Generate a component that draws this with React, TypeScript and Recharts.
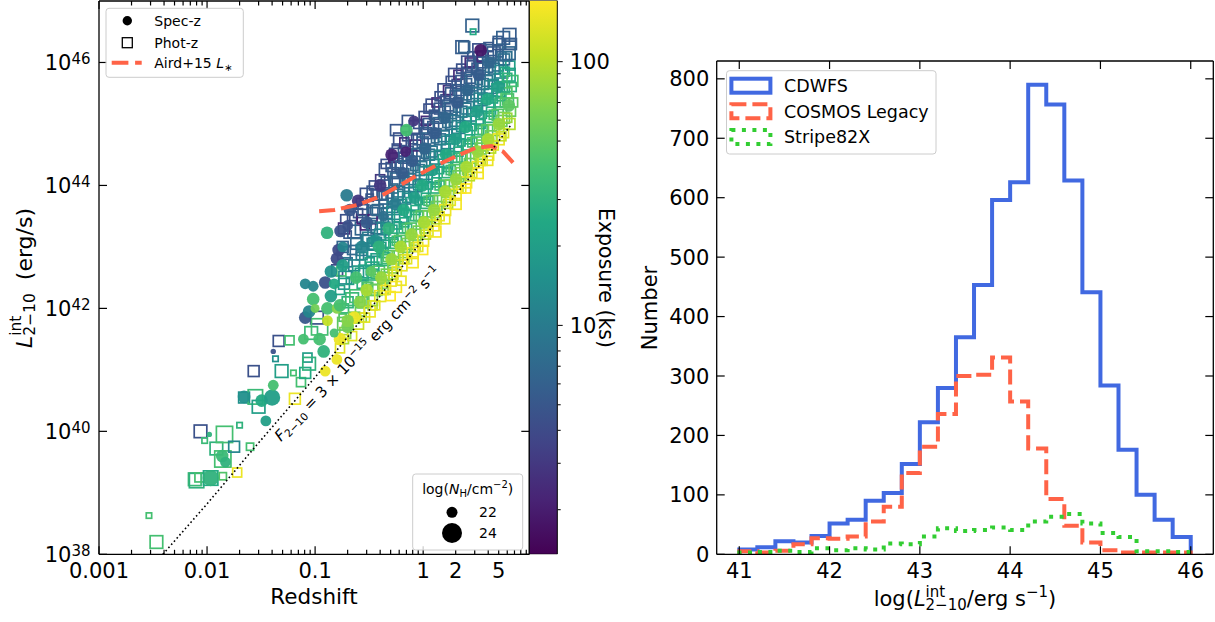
import { ComposedChart, Scatter, Line, XAxis, YAxis, BarChart, Bar } from 'recharts'

const FONT = '"DejaVu Sans", Verdana, sans-serif'
const INK = '#000'

// [redshift, log L_int (erg/s), exposure (ks), log NH]
type Src = [number, number, number, number]

const specZ: Src[] = [
  [0.0108, 39.24, 30, 24], [0.0105, 39.95, 30, 21], [0.0138, 39.6, 35, 23], [0.0148, 39.5, 30, 22.5],
  [0.022, 40.56, 15, 23], [0.032, 40.5, 25, 23], [0.035, 40.17, 20, 22.5], [0.04, 40.55, 20, 24],
  [0.041, 40.75, 40, 22.5], [0.041, 41.3, 4.5, 21], [0.078, 41.5, 40, 22.5], [0.081, 41.85, 5, 23],
  [0.088, 41.95, 12, 23], [0.096, 42.15, 40, 23], [0.081, 42.4, 12, 22.5], [0.096, 42.36, 12, 22.5],
  [0.124, 42.42, 4.5, 23], [0.124, 40.98, 150, 22.5], [0.159, 41.17, 150, 22.5], [0.17, 41.5, 150, 23],
  [0.2, 41.7, 60, 23], [0.23, 41.85, 150, 23], [0.129, 43.23, 30, 23], [0.172, 43.26, 4.5, 23],
  [0.196, 43.84, 10, 23], [0.159, 42.81, 4, 23], [0.165, 42.95, 4, 23], [0.18, 43.0, 12, 22.5],
  [0.1, 42.0, 60, 22], [0.11, 41.5, 40, 23], [0.13, 42.0, 40, 23], [0.14, 42.2, 20, 23],
  [0.12, 41.3, 30, 23], [0.15, 41.6, 40, 22], [0.14, 42.6, 15, 23], [0.15, 42.4, 25, 22.5],
  [0.13, 41.8, 110, 22.5], [0.16, 42.0, 70, 22.5],
  [0.17, 42.05, 40, 23], [0.2, 41.8, 70, 23], [0.18, 42.7, 20, 23], [0.2, 43.35, 4.5, 22.5], [0.21, 43.6, 5, 23],
  [0.26, 42.1, 70, 23], [0.24, 42.5, 40, 23], [0.27, 43.0, 12, 23], [0.25, 43.75, 3, 23],
  [0.3, 42.3, 90, 23], [0.33, 42.6, 50, 22.5], [0.36, 43.1, 15, 23], [0.3, 43.4, 5.5, 23],
  [0.41, 42.5, 80, 23], [0.39, 43.0, 30, 23], [0.43, 43.5, 8, 22.5], [0.4, 44.0, 3, 23],
  [0.51, 42.8, 80, 23], [0.48, 43.3, 30, 23], [0.55, 43.7, 10, 23], [0.51, 44.5, 2.2, 23],
  [0.62, 43.0, 90, 23], [0.66, 43.6, 25, 23], [0.64, 44.2, 5.5, 23], [0.69, 44.55, 2.2, 22.5], [0.7, 44.9, 40, 23],
  [0.78, 43.2, 80, 23], [0.83, 43.8, 20, 23], [0.79, 44.4, 5.5, 23], [0.82, 45.05, 3, 22.5],
  [1.02, 43.4, 90, 23], [0.98, 44.0, 25, 23], [1.03, 44.6, 6.5, 23],
  [1.26, 43.6, 80, 23], [1.22, 44.25, 20, 23], [1.28, 44.85, 5.5, 23],
  [1.6, 43.9, 90, 23], [1.63, 44.5, 25, 23], [1.58, 45.1, 6.5, 23],
  [2.02, 44.1, 80, 23], [1.99, 44.75, 20, 23], [2.06, 45.35, 5.5, 23],
  [2.52, 44.3, 90, 23], [2.47, 44.95, 25, 23], [2.56, 45.55, 6.5, 23],
  [3.21, 44.55, 80, 23], [3.16, 45.2, 20, 23], [3.27, 45.8, 5.5, 23], [3.4, 46.2, 1.8, 23],
  [4.0, 44.75, 90, 23], [3.94, 45.4, 25, 23], [4.06, 46.0, 6.5, 23],
  [5.02, 45.0, 80, 23], [4.96, 45.6, 20, 23],
  [6.2, 45.3, 50, 23],
]

const photZ: Src[] = [
  // low-z tail
  [0.0029, 38.63, 40, 21], [0.0034, 38.2, 40, 23], [0.0077, 39.22, 35, 23], [0.008, 39.2, 30, 23.5],
  [0.0085, 39.25, 40, 22], [0.0087, 40.0, 4.5, 23], [0.0095, 39.85, 35, 21], [0.0108, 39.24, 25, 23.5],
  [0.0122, 39.72, 30, 23], [0.014, 39.55, 40, 24], [0.014, 39.27, 45, 21.5], [0.0145, 39.95, 40, 24],
  [0.0178, 39.75, 12, 22.5], [0.019, 39.33, 150, 22], [0.02, 40.1, 30, 21], [0.022, 40.55, 15, 22.5],
  [0.025, 39.75, 40, 21.5], [0.027, 40.98, 4.5, 22.5], [0.028, 40.56, 35, 23.5], [0.03, 40.4, 20, 23],
  [0.043, 41.18, 15, 21], [0.046, 41.47, 4.5, 22.5], [0.049, 40.98, 20, 23], [0.058, 41.48, 40, 22],
  [0.063, 40.95, 40, 21], [0.065, 40.53, 150, 22.5], [0.074, 40.8, 40, 22], [0.081, 40.95, 25, 22.5],
  [0.085, 41.2, 20, 22], [0.088, 41.1, 30, 23], [0.092, 41.6, 35, 23], [0.104, 41.85, 4.5, 23],
  [0.11, 41.7, 40, 24], [0.16, 42.62, 4, 22.5], [0.175, 42.6, 40, 22],
  // dense band
  [0.17, 41.35, 140, 22], [0.19, 41.6, 70, 22.5], [0.18, 41.85, 45, 21.5], [0.2, 42.1, 30, 22.5], [0.17, 42.3, 22, 22],
  [0.19, 42.5, 14, 23], [0.2, 42.75, 9, 22], [0.18, 43.0, 6.5, 22.5], [0.2, 43.2, 5, 21.5], [0.19, 43.45, 4.5, 22],
  [0.185, 41.5, 90, 22], [0.185, 41.75, 50, 23], [0.185, 42.0, 35, 22], [0.185, 42.4, 18, 22.5], [0.185, 42.9, 7, 23],
  [0.185, 43.3, 2.5, 22.5],
  [0.22, 41.55, 140, 22], [0.23, 41.85, 60, 22.5], [0.22, 42.15, 35, 23], [0.21, 42.45, 20, 21.5], [0.23, 42.7, 12, 22.5],
  [0.22, 42.95, 7, 22], [0.23, 43.25, 5.5, 23], [0.22, 43.5, 4.5, 22],
  [0.25, 41.75, 120, 22.5], [0.26, 41.95, 60, 22], [0.24, 42.2, 38, 23], [0.27, 42.4, 28, 22], [0.25, 42.6, 18, 22.5],
  [0.26, 42.85, 11, 21.5], [0.24, 43.05, 7, 22.5], [0.27, 43.3, 6.5, 23], [0.25, 43.55, 5, 22],
  [0.27, 41.85, 80, 22], [0.27, 42.1, 45, 22.5], [0.27, 42.55, 20, 23], [0.27, 42.95, 9, 22.5], [0.27, 43.45, 2.2, 22],
  [0.27, 43.7, 4.5, 22.5],
  [0.29, 41.85, 140, 22], [0.28, 42.1, 55, 22.5], [0.3, 42.35, 35, 22], [0.29, 42.6, 22, 23], [0.28, 42.85, 14, 21.5],
  [0.3, 43.1, 9, 22.5], [0.29, 43.35, 2.2, 22], [0.28, 43.6, 5.5, 22.5], [0.3, 43.85, 4.5, 23],
  [0.32, 41.95, 150, 22.5], [0.33, 42.15, 80, 23], [0.31, 42.35, 45, 22], [0.34, 42.55, 30, 22.5], [0.32, 42.75, 22, 22],
  [0.35, 42.95, 15, 23], [0.31, 43.15, 10, 22.5], [0.33, 43.35, 7, 22], [0.34, 43.55, 6.5, 22.5], [0.32, 43.8, 5, 21.5],
  [0.35, 44.0, 4.5, 22],
  [0.34, 42.05, 100, 22], [0.34, 42.3, 50, 22.5], [0.34, 42.65, 25, 23], [0.34, 43.05, 12, 22.5], [0.34, 43.45, 2.2, 22],
  [0.34, 43.9, 5, 22.5],
  [0.36, 42.05, 140, 22], [0.37, 42.3, 55, 22.5], [0.36, 42.55, 32, 21.5], [0.37, 42.8, 20, 22.5], [0.36, 43.05, 12, 23],
  [0.37, 43.3, 7, 22.5], [0.36, 43.6, 6, 22], [0.37, 43.85, 5, 22.5],
  [0.4, 42.2, 140, 22.5], [0.42, 42.4, 70, 22], [0.39, 42.6, 45, 22.5], [0.43, 42.8, 30, 23], [0.41, 43.0, 20, 22],
  [0.4, 43.2, 13, 22.5], [0.44, 43.4, 9, 21.5], [0.38, 43.6, 7, 22.5], [0.42, 43.85, 5.5, 22.5], [0.4, 44.1, 3, 22],
  [0.45, 44.25, 5, 23],
  [0.43, 42.3, 90, 22], [0.43, 42.5, 55, 22.5], [0.43, 42.9, 25, 22], [0.43, 43.3, 11, 23], [0.43, 43.7, 6.5, 22],
  [0.43, 44.0, 5, 22.5],
  [0.45, 42.3, 140, 22], [0.46, 42.55, 60, 22.5], [0.45, 42.8, 35, 22], [0.46, 43.05, 22, 21.5], [0.45, 43.3, 14, 22],
  [0.46, 43.55, 8, 22.5], [0.45, 43.8, 6.5, 23], [0.46, 44.05, 5, 22.5], [0.45, 44.35, 4.5, 22],
  [0.5, 42.45, 150, 22.5], [0.52, 42.65, 75, 22], [0.48, 42.85, 45, 22.5], [0.53, 43.05, 30, 22], [0.5, 43.25, 22, 23],
  [0.47, 43.45, 14, 22], [0.52, 43.65, 10, 22.5], [0.49, 43.85, 7, 21.5], [0.54, 44.05, 6, 22.5], [0.5, 44.3, 5, 22],
  [0.56, 44.5, 4.5, 23],
  [0.53, 42.55, 100, 22], [0.53, 42.75, 60, 22.5], [0.53, 43.15, 28, 22], [0.53, 43.55, 13, 23], [0.53, 43.95, 7, 22],
  [0.53, 44.2, 5.5, 22.5], [0.53, 44.45, 2.5, 22],
  [0.57, 42.6, 140, 22], [0.58, 42.85, 60, 22.5], [0.57, 43.1, 35, 22], [0.58, 43.35, 22, 21.5], [0.57, 43.6, 14, 22],
  [0.58, 43.85, 8, 22.5], [0.57, 44.1, 6.5, 23], [0.58, 44.35, 5, 22.5], [0.57, 44.6, 4.5, 22], [0.56, 44.9, 5, 22.5],
  [0.63, 42.7, 140, 22.5], [0.65, 42.9, 70, 22], [0.61, 43.1, 45, 22.5], [0.66, 43.3, 30, 22], [0.62, 43.5, 20, 23],
  [0.64, 43.7, 13, 22], [0.6, 43.9, 9, 22.5], [0.67, 44.1, 7, 21.5], [0.63, 44.3, 5.5, 22.5], [0.65, 44.55, 5, 22],
  [0.61, 44.75, 4.5, 23],
  [0.67, 42.8, 100, 22], [0.67, 43.0, 55, 22.5], [0.67, 43.4, 25, 22], [0.67, 43.8, 11, 23], [0.67, 44.2, 6.5, 22],
  [0.67, 44.45, 5.5, 22.5], [0.67, 44.7, 2.5, 22],
  [0.71, 42.8, 140, 22], [0.72, 43.05, 60, 22.5], [0.71, 43.3, 35, 22], [0.72, 43.55, 22, 21.5], [0.71, 43.8, 14, 22],
  [0.72, 44.05, 8, 22.5], [0.71, 44.3, 6.5, 23], [0.72, 44.55, 5, 22.5], [0.71, 44.8, 4.5, 22], [0.72, 45.05, 5, 22.5],
  [0.8, 42.9, 150, 22.5], [0.82, 43.1, 75, 22], [0.77, 43.3, 45, 22.5], [0.84, 43.5, 30, 22], [0.79, 43.7, 20, 23],
  [0.81, 43.9, 14, 22], [0.76, 44.1, 9, 22.5], [0.83, 44.3, 7, 21.5], [0.78, 44.5, 5.5, 22.5], [0.8, 44.75, 5, 22],
  [0.85, 44.95, 4.5, 23],
  [0.85, 43.0, 100, 22], [0.85, 43.2, 60, 22.5], [0.85, 43.6, 25, 22], [0.85, 44.0, 11, 23], [0.85, 44.4, 6.5, 22],
  [0.85, 44.65, 2.5, 22.5],
  [0.9, 43.0, 140, 22], [0.91, 43.25, 60, 22.5], [0.9, 43.5, 35, 22], [0.91, 43.75, 22, 21.5], [0.9, 44.0, 14, 22],
  [0.91, 44.25, 8, 22.5], [0.9, 44.5, 6.5, 23], [0.91, 44.75, 5, 22.5], [0.9, 45.0, 4.5, 22],
  [1.0, 43.1, 150, 22.5], [1.03, 43.3, 70, 22], [0.97, 43.5, 45, 22.5], [1.05, 43.7, 30, 22], [0.98, 43.9, 22, 23],
  [1.02, 44.1, 14, 22], [0.96, 44.3, 9, 22.5], [1.04, 44.5, 7, 21.5], [0.99, 44.7, 6, 22.5], [1.01, 44.9, 5, 22],
  [1.05, 45.1, 4.5, 23],
  [1.06, 43.2, 100, 22], [1.06, 43.4, 55, 22.5], [1.06, 43.8, 25, 22], [1.06, 44.2, 11, 23], [1.06, 44.6, 6.5, 22],
  [1.06, 44.85, 5.5, 22.5], [1.06, 45.05, 2.5, 22],
  [1.12, 43.25, 140, 22], [1.13, 43.5, 60, 22.5], [1.12, 43.75, 35, 22], [1.13, 44.0, 22, 21.5], [1.12, 44.25, 14, 22],
  [1.13, 44.5, 8, 22.5], [1.12, 44.75, 6.5, 23], [1.13, 45.0, 5, 22.5], [1.12, 45.25, 4.5, 22],
  [1.25, 43.35, 150, 22.5], [1.28, 43.55, 75, 22], [1.21, 43.75, 45, 22.5], [1.3, 43.95, 30, 22], [1.23, 44.15, 20, 23],
  [1.27, 44.35, 14, 22], [1.2, 44.55, 9, 22.5], [1.29, 44.75, 7, 21.5], [1.24, 44.95, 5.5, 22.5], [1.26, 45.15, 5, 22],
  [1.22, 45.3, 4.5, 23],
  [1.33, 43.45, 100, 22], [1.33, 43.65, 55, 22.5], [1.33, 44.05, 25, 22], [1.33, 44.45, 11, 23], [1.33, 44.85, 6.5, 22],
  [1.33, 45.1, 5.5, 22.5], [1.33, 45.35, 2.5, 22],
  [1.42, 43.5, 140, 22], [1.43, 43.75, 60, 22.5], [1.42, 44.0, 35, 22], [1.43, 44.25, 22, 21.5], [1.42, 44.5, 14, 22],
  [1.43, 44.75, 8, 22.5], [1.42, 45.0, 6.5, 23], [1.43, 45.25, 5, 22.5], [1.42, 45.45, 4.5, 22],
  [1.6, 43.6, 150, 22.5], [1.63, 43.8, 70, 22], [1.56, 44.0, 45, 22.5], [1.65, 44.2, 30, 22], [1.58, 44.4, 22, 23],
  [1.62, 44.6, 14, 22], [1.55, 44.8, 9, 22.5], [1.64, 45.0, 7, 21.5], [1.59, 45.2, 6, 22.5], [1.61, 45.4, 5, 22],
  [1.57, 45.55, 4.5, 23],
  [1.7, 43.7, 100, 22], [1.7, 43.9, 55, 22.5], [1.7, 44.3, 25, 22], [1.7, 44.7, 11, 23], [1.7, 45.1, 6.5, 22],
  [1.7, 45.3, 5.5, 22.5], [1.7, 45.55, 2.5, 22],
  [1.8, 43.75, 140, 22], [1.81, 44.0, 60, 22.5], [1.8, 44.25, 35, 22], [1.81, 44.5, 22, 21.5], [1.8, 44.75, 14, 22],
  [1.81, 45.0, 8, 22.5], [1.8, 45.25, 6.5, 23], [1.81, 45.5, 5, 22.5], [1.8, 45.7, 4.5, 22],
  [2.0, 43.85, 150, 22.5], [2.05, 44.05, 75, 22], [1.95, 44.25, 45, 22.5], [2.08, 44.45, 30, 22], [1.98, 44.65, 20, 23],
  [2.03, 44.85, 14, 22], [1.96, 45.05, 9, 22.5], [2.07, 45.25, 7, 21.5], [2.0, 45.45, 5.5, 22.5], [2.04, 45.65, 5, 22],
  [1.97, 45.8, 4.5, 23],
  [2.12, 43.95, 100, 22], [2.12, 44.15, 55, 22.5], [2.12, 44.55, 25, 22], [2.12, 44.95, 11, 23], [2.12, 45.35, 6.5, 22],
  [2.12, 45.55, 5.5, 22.5], [2.12, 45.8, 2.5, 22],
  [2.25, 43.95, 140, 22], [2.26, 44.2, 60, 22.5], [2.25, 44.45, 35, 22], [2.26, 44.7, 22, 21.5], [2.25, 44.95, 14, 22],
  [2.26, 45.2, 8, 22.5], [2.25, 45.45, 6.5, 23], [2.26, 45.7, 5, 22.5], [2.25, 45.9, 4.5, 22],
  [2.5, 44.05, 150, 22.5], [2.55, 44.25, 70, 22], [2.45, 44.45, 45, 22.5], [2.58, 44.65, 30, 22], [2.48, 44.85, 22, 23],
  [2.53, 45.05, 14, 22], [2.46, 45.25, 9, 22.5], [2.57, 45.45, 7, 21.5], [2.5, 45.65, 6, 22.5], [2.54, 45.85, 5, 22],
  [2.6, 46.0, 4.5, 23],
  [2.7, 44.15, 100, 22], [2.7, 44.35, 55, 22.5], [2.7, 44.75, 25, 22], [2.7, 45.15, 11, 23], [2.7, 45.55, 6.5, 22],
  [2.7, 45.75, 5.5, 22.5], [2.7, 46.0, 2.5, 22],
  [2.85, 44.2, 140, 22], [2.86, 44.45, 60, 22.5], [2.85, 44.7, 35, 22], [2.86, 44.95, 22, 21.5], [2.85, 45.2, 14, 22],
  [2.86, 45.45, 8, 22.5], [2.85, 45.7, 6.5, 23], [2.86, 45.95, 5, 22.5], [2.85, 46.1, 4.5, 22],
  [3.2, 44.3, 150, 22.5], [3.25, 44.5, 75, 22], [3.12, 44.7, 45, 22.5], [3.3, 44.9, 30, 22], [3.15, 45.1, 20, 23],
  [3.22, 45.3, 14, 22], [3.1, 45.5, 9, 22.5], [3.28, 45.7, 7, 21.5], [3.18, 45.9, 5.5, 22.5], [3.24, 46.1, 5, 22],
  [3.3, 46.2, 4.5, 23],
  [3.4, 44.4, 100, 22], [3.4, 44.6, 55, 22.5], [3.4, 45.0, 25, 22], [3.4, 45.4, 11, 23], [3.4, 45.8, 6.5, 22],
  [3.4, 46.0, 5.5, 22.5],
  [3.55, 44.4, 140, 22], [3.56, 44.65, 60, 22.5], [3.55, 44.9, 35, 22], [3.56, 45.15, 22, 21.5], [3.55, 45.4, 14, 22],
  [3.56, 45.65, 8, 22.5], [3.55, 45.9, 6.5, 23], [3.56, 46.1, 2.5, 22.5],
  [4.0, 44.5, 150, 22.5], [4.05, 44.7, 70, 22], [3.92, 44.9, 45, 22.5], [4.1, 45.1, 30, 22], [3.95, 45.3, 22, 23],
  [4.03, 45.5, 14, 22], [3.9, 45.7, 9, 22.5], [4.08, 45.9, 7, 21.5], [3.98, 46.1, 6, 22.5], [4.02, 46.25, 5, 22],
  [4.25, 44.6, 100, 22], [4.25, 44.8, 55, 22.5], [4.25, 45.2, 25, 22], [4.25, 45.6, 11, 23], [4.25, 46.0, 6.5, 22],
  [4.25, 46.2, 5.5, 22.5],
  [4.5, 44.65, 140, 22], [4.51, 44.9, 60, 22.5], [4.5, 45.15, 35, 22], [4.51, 45.4, 22, 21.5], [4.5, 45.65, 14, 22],
  [4.51, 45.9, 8, 22.5], [4.5, 46.15, 5.5, 23],
  [5.0, 44.75, 150, 22.5], [5.05, 44.95, 75, 22], [4.9, 45.15, 45, 22.5], [5.1, 45.35, 30, 22], [4.95, 45.55, 20, 23],
  [5.03, 45.75, 14, 22], [4.92, 45.95, 8, 22.5], [5.08, 46.15, 6, 21.5], [5.0, 46.3, 5, 22.5],
  [5.3, 44.8, 110, 22], [5.3, 45.05, 55, 22.5], [5.3, 45.45, 28, 22], [5.3, 45.85, 12, 23], [5.3, 46.1, 6.5, 22],
  [5.6, 44.85, 130, 22], [5.6, 45.1, 60, 22.5], [5.7, 45.35, 40, 22], [5.6, 45.6, 30, 22.5], [5.7, 45.85, 22, 22],
  [5.6, 46.05, 8, 22.5],
  [6.3, 45.0, 100, 22.5], [6.5, 45.2, 55, 22], [6.1, 45.4, 40, 22.5], [6.6, 45.6, 30, 22], [6.2, 45.8, 25, 23],
  [6.4, 45.95, 20, 22], [6.7, 45.7, 40, 22.5], [6.0, 46.1, 8, 22], [6.4, 46.3, 6, 22.5],
  [6.0, 45.1, 80, 22], [5.9, 45.5, 45, 22.5], [6.0, 45.75, 30, 22], [6.8, 45.35, 50, 22],
  // bright outliers on top
  [2.3, 46.25, 5.5, 23], [2.4, 46.25, 6, 22.5], [2.85, 46.6, 6, 23], [2.9, 46.5, 25, 21], [4.9, 46.35, 5.5, 22],
  [5.5, 46.4, 6, 23], [6.3, 46.45, 5.5, 23], [6.5, 46.3, 5.5, 22.5], [6.2, 46.15, 6.5, 23],
  // deep-field sources just under the flux line
  [0.5, 42.2, 170, 22], [0.56, 42.35, 160, 22.5], [0.63, 42.45, 150, 22], [0.8, 42.75, 160, 22.5],
  [1.0, 42.95, 170, 22], [1.3, 43.25, 160, 22.5], [1.6, 43.45, 150, 22], [2.0, 43.7, 160, 22.5],
  [2.5, 43.95, 170, 22], [3.2, 44.2, 160, 22.5], [4.0, 44.4, 150, 22],
]

// [redshift, log L]
const airdLstar: [number, number][] = [
  [0.109, 43.58], [0.15, 43.6], [0.243, 43.68], [0.4, 43.82], [0.565, 43.97], [0.85, 44.15],
  [1.31, 44.32], [2.0, 44.47], [3.04, 44.61], [4.3, 44.64], [5.5, 44.55], [6.8, 44.37],
]
const fluxLimit: [number, number][] = [
  [0.0039, 38.0], [0.01, 38.82], [0.027, 39.72], [0.1, 40.88], [0.34, 42.04],
  [1.0, 43.13], [2.0, 43.85], [4.0, 44.5], [6.6, 45.0],
]

const zDomain = [0.001, 9.6]
const zMajorTicks = [0.001, 0.01, 0.1, 1]
const zMinorTicks = [
  0.002, 0.003, 0.004, 0.005, 0.006, 0.007, 0.008, 0.009,
  0.02, 0.03, 0.04, 0.05, 0.06, 0.07, 0.08, 0.09,
  0.2, 0.3, 0.4, 0.5, 0.6, 0.7, 0.8, 0.9,
  2, 3, 4, 5, 6, 7, 8, 9,
]
const zLabelTicks = [0.001, 0.01, 0.1, 1, 2, 5]
const zLabels = ['0.001', '0.01', '0.1', '1', '2', '5']
const lumDomain = [1e38, 1e47]
const lumTicks = [1e38, 1e40, 1e42, 1e44, 1e46]

const exposureRange = [1.355, 170.6]
const exposureMajor = [10, 100]
const exposureMinor = [2, 3, 4, 5, 6, 7, 8, 9, 20, 30, 40, 50, 60, 70, 80, 90]

const binEdges = [
  41, 41.2, 41.4, 41.6, 41.8, 42, 42.2, 42.4, 42.6, 42.8, 43, 43.2, 43.4,
  43.6, 43.8, 44, 44.2, 44.4, 44.6, 44.8, 45, 45.2, 45.4, 45.6, 45.8, 46,
]
const cdwfsCounts = [8, 12, 22, 20, 31, 52, 58, 90, 103, 152, 222, 280, 365, 453, 596, 626, 790, 757, 629, 441, 284, 176, 100, 58, 29]
const cosmosCounts = [5, 3, 6, 17, 27, 26, 30, 55, 80, 137, 181, 236, 300, 302, 331, 257, 178, 93, 48, 20, 7, 3, 3, 3, 3]
const stripeCounts = [3, 4, 6, 4, 10, 7, 10, 8, 18, 17, 30, 44, 39, 41, 45, 41, 55, 63, 68, 52, 36, 29, 5, 5, 4]
const lumHistDomain = [40.75, 46.25]
const lumHistTicks = [41, 42, 43, 44, 45, 46]
const numberDomain = [0, 830]
const numberTicks = [0, 100, 200, 300, 400, 500, 600, 700, 800]

const VIRIDIS = ['#440154', '#482475', '#414487', '#355f8d', '#2a788e', '#21918c', '#22a884', '#44bf70', '#7ad151', '#bddf26', '#fde725']
const BLUE = '#4169e1'
const RED = '#ff6347'
const GREEN = '#32cd32'
const RED_DASH = '15 6'
const GREEN_DOT = '4 6.5'

function hexRgb(h: string) {
  return [1, 3, 5].map((i) => parseInt(h.slice(i, i + 2), 16))
}
function viridis(t: number) {
  const u = Math.min(1, Math.max(0, t)) * (VIRIDIS.length - 1)
  const i = Math.min(VIRIDIS.length - 2, Math.floor(u))
  const a = hexRgb(VIRIDIS[i])
  const b = hexRgb(VIRIDIS[i + 1])
  const f = u - i
  return `rgb(${a.map((v, k) => Math.round(v + (b[k] - v) * f)).join(',')})`
}
function exposureColor(e: number) {
  return viridis(Math.log(e / exposureRange[0]) / Math.log(exposureRange[1] / exposureRange[0]))
}
const markerSize = (nh: number) => 3.6 * (nh - 19.5)

const toPoints = (rows: Src[]) => rows.map(([z, logL, exp, nh]) => ({ z, L: 10 ** logL, exp, nh }))
const toCurve = (rows: [number, number][]) => rows.map(([z, logL]) => ({ z, L: 10 ** logL }))
const stepPoints = (counts: number[]) => [
  { x: binEdges[0], y: 0 },
  ...counts.map((c, i) => ({ x: binEdges[i], y: c })),
  { x: binEdges[binEdges.length - 1], y: 0 },
]

const MAJOR = 8
const MINOR = 4.5

const circleShape = (p: any) => {
  const r = markerSize(p.payload.nh) / 2
  return <circle cx={p.cx} cy={p.cy} r={r} fill={exposureColor(p.payload.exp)} fillOpacity={0.95} />
}
const squareShape = (p: any) => {
  const s = markerSize(p.payload.nh)
  return (
    <rect x={p.cx - s / 2} y={p.cy - s / 2} width={s} height={s} fill="none"
      stroke={exposureColor(p.payload.exp)} strokeWidth={1.7} />
  )
}
const noShape = () => <g />

const zBottomTick = (p: any) => {
  const v = p.payload.value
  const len = zMajorTicks.includes(v) ? MAJOR : MINOR
  const li = zLabelTicks.indexOf(v)
  return (
    <g>
      <line x1={p.x} x2={p.x} y1={p.y} y2={p.y - len} stroke={INK} strokeWidth={1.2} />
      {li >= 0 && (
        <text x={p.x} y={p.y + 24} textAnchor="middle" fontSize={21} fill={INK}>{zLabels[li]}</text>
      )}
    </g>
  )
}
const zTopTick = (p: any) => {
  const len = zMajorTicks.includes(p.payload.value) ? MAJOR : MINOR
  return <line x1={p.x} x2={p.x} y1={p.y} y2={p.y + len} stroke={INK} strokeWidth={1.2} />
}
const lumLeftTick = (p: any) => {
  const e = Math.round(Math.log10(p.payload.value))
  return (
    <g>
      <line x1={p.x} x2={p.x + MAJOR} y1={p.y} y2={p.y} stroke={INK} strokeWidth={1.2} />
      <text x={p.x - 8.5} y={p.y + 7.6} textAnchor="end" fontSize={21} fill={INK}>
        10<tspan fontSize={15} dy={-6}>{e}</tspan>
      </text>
    </g>
  )
}
const rightTick = (p: any) => (
  <line x1={p.x} x2={p.x - MAJOR} y1={p.y} y2={p.y} stroke={INK} strokeWidth={1.2} />
)
const histBottomTick = (p: any) => (
  <g>
    <line x1={p.x} x2={p.x} y1={p.y} y2={p.y - MAJOR} stroke={INK} strokeWidth={1.2} />
    <text x={p.x} y={p.y + 24} textAnchor="middle" fontSize={21} fill={INK}>{p.payload.value}</text>
  </g>
)
const histTopTick = (p: any) => (
  <line x1={p.x} x2={p.x} y1={p.y} y2={p.y + MAJOR} stroke={INK} strokeWidth={1.2} />
)
const histLeftTick = (p: any) => (
  <g>
    <line x1={p.x} x2={p.x + MAJOR} y1={p.y} y2={p.y} stroke={INK} strokeWidth={1.2} />
    <text x={p.x - 7.4} y={p.y + 7.6} textAnchor="end" fontSize={21} fill={INK}>{p.payload.value}</text>
  </g>
)
const cbarTick = (p: any) => {
  const v = p.payload.value
  const major = exposureMajor.includes(v)
  return (
    <g>
      <line x1={p.x} x2={p.x + (major ? 5 : 3)} y1={p.y} y2={p.y} stroke={INK} strokeWidth={1} />
      {major && (
        <text x={p.x + 12} y={p.y + 7.6} fontSize={21} fill={INK}>{v}</text>
      )}
    </g>
  )
}

const frame = { stroke: INK, strokeWidth: 1.3 }

function ScatterPanel() {
  const axisCommon = { tickLine: false, tickSize: 0, tickMargin: 0, interval: 0 as const, allowDataOverflow: true, axisLine: frame }
  return (
    <ComposedChart width={560} height={622} margin={{ left: 98, right: 29.7, top: 0, bottom: 66.7 }}>
      <XAxis xAxisId="b" dataKey="z" type="number" scale="log" domain={zDomain} height={1}
        ticks={[...zMajorTicks, ...zMinorTicks]} tick={zBottomTick} {...axisCommon} />
      <XAxis xAxisId="t" dataKey="z" type="number" scale="log" domain={zDomain} height={1} orientation="top"
        ticks={[...zMajorTicks, ...zMinorTicks]} tick={zTopTick} {...axisCommon} />
      <YAxis yAxisId="l" dataKey="L" type="number" scale="log" domain={lumDomain} width={1}
        ticks={lumTicks} tick={lumLeftTick} {...axisCommon} />
      <YAxis yAxisId="r" dataKey="L" type="number" scale="log" domain={lumDomain} width={1} orientation="right"
        ticks={lumTicks} tick={rightTick} {...axisCommon} />
      <Scatter xAxisId="b" yAxisId="l" data={toPoints(photZ)} shape={squareShape} isAnimationActive={false} />
      <Scatter xAxisId="b" yAxisId="l" data={toPoints(specZ)} shape={circleShape} isAnimationActive={false} />
      <Scatter xAxisId="b" yAxisId="l" data={toCurve(airdLstar)} shape={noShape} isAnimationActive={false}
        line={{ stroke: RED, strokeWidth: 4, strokeDasharray: '16 6' }} />
      <Scatter xAxisId="t" yAxisId="r" data={toCurve(fluxLimit)} shape={noShape} isAnimationActive={false}
        line={{ stroke: INK, strokeWidth: 1.6, strokeDasharray: '1.6 2.6' }} />
    </ComposedChart>
  )
}

function Colorbar() {
  return (
    <BarChart width={100} height={622} data={[{ name: 'exposure', span: exposureRange }]}
      margin={{ left: 9.3, right: 61.3, top: 0.5, bottom: 67.7 }} barCategoryGap={0} barGap={0}>
      <XAxis dataKey="name" hide />
      <YAxis orientation="right" type="number" scale="log" domain={exposureRange} allowDataOverflow width={1}
        ticks={[...exposureMinor, ...exposureMajor]} tick={cbarTick} tickLine={false} tickSize={0} tickMargin={0}
        interval={0} axisLine={false} />
      <Bar dataKey="span" fill="url(#viridisBar)" stroke={INK} strokeWidth={1} isAnimationActive={false} />
    </BarChart>
  )
}

function HistPanel() {
  const axisCommon = { tickLine: false, tickSize: 0, tickMargin: 0, interval: 0 as const, allowDataOverflow: true, axisLine: frame }
  const lineCommon = {
    type: 'stepAfter' as const, dataKey: 'y', dot: false, activeDot: false, isAnimationActive: false,
    strokeWidth: 4, strokeLinejoin: 'miter' as const, strokeLinecap: 'butt' as const,
  }
  return (
    <ComposedChart width={575} height={622} margin={{ left: 75.7, right: 0.7, top: 60, bottom: 66.7 }}>
      <XAxis xAxisId="b" dataKey="x" type="number" domain={lumHistDomain} height={1}
        ticks={lumHistTicks} tick={histBottomTick} {...axisCommon} />
      <XAxis xAxisId="t" dataKey="x" type="number" domain={lumHistDomain} height={1} orientation="top"
        ticks={lumHistTicks} tick={histTopTick} {...axisCommon} />
      <YAxis yAxisId="l" type="number" domain={numberDomain} width={1}
        ticks={numberTicks} tick={histLeftTick} {...axisCommon} />
      <YAxis yAxisId="r" type="number" domain={numberDomain} width={1} orientation="right"
        ticks={numberTicks} tick={rightTick} {...axisCommon} />
      <Line xAxisId="b" yAxisId="l" data={stepPoints(cdwfsCounts)} stroke={BLUE} {...lineCommon} />
      <Line xAxisId="b" yAxisId="l" data={stepPoints(cosmosCounts)} stroke={RED} strokeDasharray={RED_DASH} {...lineCommon} />
      <Line xAxisId="t" yAxisId="r" data={stepPoints(stripeCounts)} stroke={GREEN} strokeDasharray={GREEN_DOT} {...lineCommon} />
    </ComposedChart>
  )
}

function Annotations() {
  return (
    <svg width={1215} height={622} style={{ position: 'absolute', left: 0, top: 0, pointerEvents: 'none' }}
      fontFamily={FONT} fill={INK}>
      {/* left panel titles */}
      <text x={314} y={604} textAnchor="middle" fontSize={21.5}>Redshift</text>
      <text transform="translate(24,278) rotate(-90)" textAnchor="middle" dominantBaseline="central" fontSize={22}>
        <tspan fontStyle="italic">L</tspan>
        <tspan fontSize={15.5} dy={-8.5}>int</tspan>
        <tspan fontSize={15.5} dx={-20.2} dy={14}>2−10</tspan>
        <tspan dx={6} dy={-5.5}> (erg/s)</tspan>
      </text>
      <text transform="translate(606,278) rotate(90)" textAnchor="middle" dominantBaseline="central" fontSize={20.5}>
        Exposure (ks)
      </text>
      {/* flux limit label */}
      <text transform="translate(281,442) rotate(-46.5)" fontSize={15}>
        <tspan fontStyle="italic">F</tspan>
        <tspan fontSize={10.5} dy={3}>2−10</tspan>
        <tspan dy={-3}> = 3 × 10</tspan>
        <tspan fontSize={10.5} dy={-6}>−15</tspan>
        <tspan dy={6}> erg cm</tspan>
        <tspan fontSize={10.5} dy={-6}>−2</tspan>
        <tspan dy={6}> s</tspan>
        <tspan fontSize={10.5} dy={-6}>−1</tspan>
      </text>
      {/* marker legend */}
      <rect x={106} y={8.3} width={137.3} height={69} rx={3} fill="#fff" fillOpacity={0.8} stroke="#cccccc" />
      <circle cx={127.3} cy={20.7} r={4.7} fill={INK} />
      <text x={154.3} y={25.5} fontSize={14}>Spec-z</text>
      <rect x={122.3} y={37.7} width={10} height={10} fill="none" stroke={INK} strokeWidth={1.3} />
      <text x={154.3} y={47.5} fontSize={14}>Phot-z</text>
      <line x1={111.7} x2={141.7} y1={62.7} y2={62.7} stroke={RED} strokeWidth={4} strokeDasharray="16.7 6.7" />
      <text x={154.3} y={67.5} fontSize={14}>
        Aird+15 <tspan fontStyle="italic">L</tspan><tspan fontSize={10} dy={3}>∗</tspan>
      </text>
      {/* NH legend */}
      <rect x={412.7} y={474} width={110} height={76} rx={3} fill="#fff" fillOpacity={0.8} stroke="#cccccc" />
      <text x={467.7} y={494} textAnchor="middle" fontSize={14}>
        log(<tspan fontStyle="italic">N</tspan><tspan fontSize={10} dy={3}>H</tspan>
        <tspan dy={-3}>/cm</tspan><tspan fontSize={10} dy={-6}>−2</tspan><tspan dy={6}>)</tspan>
      </text>
      <circle cx={452} cy={512.3} r={5.5} fill={INK} />
      <text x={479} y={517.3} fontSize={14}>22</text>
      <circle cx={452} cy={533} r={10} fill={INK} />
      <text x={479} y={538} fontSize={14}>24</text>
      {/* histogram titles */}
      <text x={965} y={606} textAnchor="middle" fontSize={21}>
        log(<tspan fontStyle="italic">L</tspan>
        <tspan fontSize={15} dy={-9}>int</tspan>
        <tspan fontSize={15} dx={-19.6} dy={13}>2−10</tspan>
        <tspan dy={-4}>/erg s</tspan>
        <tspan fontSize={15} dy={-9}>−1</tspan>
        <tspan dy={9}>)</tspan>
      </text>
      <text transform="translate(650,308) rotate(-90)" textAnchor="middle" dominantBaseline="central" fontSize={21}>
        Number
      </text>
      {/* histogram legend */}
      <rect x={726.5} y={70.7} width={209.5} height={83.3} rx={3} fill="#fff" fillOpacity={0.8} stroke="#cccccc" />
      <rect x={731.4} y={78.7} width={39} height={14} fill="none" stroke={BLUE} strokeWidth={4} />
      <text x={784} y={92} fontSize={17.5}>CDWFS</text>
      <rect x={731.4} y={104.2} width={39} height={14} fill="none" stroke={RED} strokeWidth={4} strokeDasharray={RED_DASH} />
      <text x={784} y={117.5} fontSize={17.5}>COSMOS Legacy</text>
      <rect x={731.4} y={129.9} width={39} height={14} fill="none" stroke={GREEN} strokeWidth={4} strokeDasharray={GREEN_DOT} />
      <text x={784} y={143.3} fontSize={17.5}>Stripe82X</text>
    </svg>
  )
}

export default function App() {
  return (
    <div style={{ position: 'absolute', left: 0, top: 0, width: 1215, height: 622, background: '#fff', fontFamily: FONT }}>
      <svg width={0} height={0} style={{ position: 'absolute' }}>
        <defs>
          <linearGradient id="viridisBar" x1="0" y1="1" x2="0" y2="0">
            {VIRIDIS.map((c, i) => (
              <stop key={c} offset={i / (VIRIDIS.length - 1)} stopColor={c} />
            ))}
          </linearGradient>
        </defs>
      </svg>
      <div style={{ position: 'absolute', left: 0, top: 0 }}>
        <ScatterPanel />
      </div>
      <div style={{ position: 'absolute', left: 520, top: 0 }}>
        <Colorbar />
      </div>
      <div style={{ position: 'absolute', left: 640, top: 0 }}>
        <HistPanel />
      </div>
      <Annotations />
    </div>
  )
}
